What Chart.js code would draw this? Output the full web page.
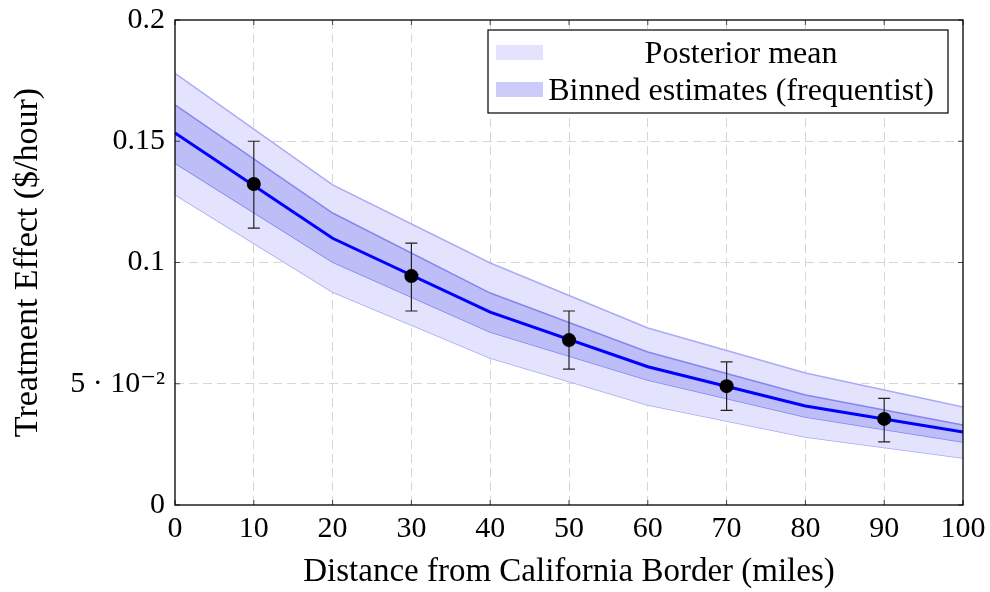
<!DOCTYPE html>
<html>
<head>
<meta charset="utf-8">
<script src="https://cdn.jsdelivr.net/npm/chart.js@4.4.1/dist/chart.umd.min.js"></script>
<style>
  html, body { margin: 0; padding: 0; background: #fff; }
  #wrap { width: 990px; height: 592px; }
</style>
</head>
<body>
<div id="wrap"><canvas id="mychart" width="990" height="592"></canvas></div>
<script>
// band / posterior mean, read at 20-mile steps
const bandX = [0, 20, 40, 60, 80, 100];
const postMean = [0.1534, 0.1100, 0.0795, 0.0570, 0.0408, 0.0301];
const innerUpper = [0.165, 0.1204, 0.0874, 0.0631, 0.0454, 0.0330];
const innerLower = [0.141, 0.1002, 0.0713, 0.0515, 0.0363, 0.0260];
const outerUpper = [0.178, 0.1320, 0.0998, 0.0730, 0.0544, 0.0404];
const outerLower = [0.128, 0.0878, 0.0606, 0.0412, 0.0280, 0.0194];

// binned frequentist estimates
const binX = [10, 30, 50, 70, 90];
const binEst = [0.1324, 0.0944, 0.0680, 0.0490, 0.0355];
const binLow = [0.1142, 0.0800, 0.0560, 0.0390, 0.0260];
const binHigh = [0.1500, 0.1080, 0.0800, 0.0590, 0.0440];

const xTicks = [0, 10, 20, 30, 40, 50, 60, 70, 80, 90, 100];
const yTicks = [0, 0.05, 0.1, 0.15, 0.2];
const yTickLabels = ['0', '5 \u00b7 10\u207b\u00b2', '0.1', '0.15', '0.2'];
const legendLabels = ['Posterior mean', 'Binned estimates (frequentist)'];

const FONT = '"Liberation Serif", "DejaVu Serif", serif';
const outerFill = '#e3e3fd';
const innerFill = '#bdbdf8';

const pts = (xs, ys) => xs.map((x, i) => ({ x: x, y: ys[i] }));

const ctx = document.getElementById('mychart');

const pgfDecor = {
    id: 'pgfDecor',
    afterDatasetsDraw: (chart) => {
        const c = chart.ctx;
        const xs = chart.scales.x, ys = chart.scales.y;
        const a = chart.chartArea;
        c.save();
        // error bars
        c.strokeStyle = '#222';
        c.lineWidth = 1.2;
        binX.forEach((x, i) => {
            const px = xs.getPixelForValue(x);
            const top = ys.getPixelForValue(binHigh[i]);
            const bot = ys.getPixelForValue(binLow[i]);
            c.beginPath();
            c.moveTo(px, top); c.lineTo(px, bot);
            c.moveTo(px - 6, top); c.lineTo(px + 6, top);
            c.moveTo(px - 6, bot); c.lineTo(px + 6, bot);
            c.stroke();
        });
        // dots on top
        c.fillStyle = '#000';
        binX.forEach((x, i) => {
            c.beginPath();
            c.arc(xs.getPixelForValue(x), ys.getPixelForValue(binEst[i]), 7, 0, Math.PI * 2);
            c.fill();
        });
        // inward tick marks
        c.strokeStyle = '#444';
        c.lineWidth = 1;
        xTicks.forEach(t => {
            const px = xs.getPixelForValue(t);
            c.beginPath();
            c.moveTo(px, a.bottom); c.lineTo(px, a.bottom - 5);
            c.moveTo(px, a.top); c.lineTo(px, a.top + 5);
            c.stroke();
        });
        yTicks.forEach(t => {
            const py = ys.getPixelForValue(t);
            c.beginPath();
            c.moveTo(a.left, py); c.lineTo(a.left + 5, py);
            c.moveTo(a.right, py); c.lineTo(a.right - 5, py);
            c.stroke();
        });
        // frame
        c.strokeStyle = '#000';
        c.lineWidth = 1.3;
        c.strokeRect(a.left, a.top, a.right - a.left, a.bottom - a.top);

        // legend box
        const lx = 488, ly = 30, lw = 460, lh = 83;
        c.fillStyle = '#fff';
        c.fillRect(lx, ly, lw, lh);
        c.strokeStyle = '#000';
        c.lineWidth = 1.2;
        c.strokeRect(lx, ly, lw, lh);
        const patches = [outerFill, '#ccccfa'];
        c.font = '32px ' + FONT;
        c.textAlign = 'center';
        c.textBaseline = 'alphabetic';
        legendLabels.forEach((lab, i) => {
            const rowY = ly + 22 + i * 37;
            c.fillStyle = patches[i];
            c.fillRect(lx + 8, rowY - 7, 47, 15);
            c.fillStyle = '#000';
            c.fillText(lab, 741, rowY + 11);
        });
        c.restore();
    }
};

new Chart(ctx, {
    type: 'line',
    data: {
        datasets: [
            {
                label: 'mean',
                data: pts(bandX, postMean),
                borderColor: '#0000ff',
                borderWidth: 3,
                pointRadius: 0,
                fill: false
            },
            {
                label: 'innerUpper',
                data: pts(bandX, innerUpper),
                borderColor: '#8585ef',
                borderWidth: 1.5,
                pointRadius: 0,
                backgroundColor: innerFill,
                fill: '+1'
            },
            {
                label: 'innerLower',
                data: pts(bandX, innerLower),
                borderColor: '#8585ef',
                borderWidth: 1.5,
                pointRadius: 0,
                fill: false
            },
            {
                label: 'outerUpper',
                data: pts(bandX, outerUpper),
                borderColor: '#aaaaf5',
                borderWidth: 1.5,
                pointRadius: 0,
                backgroundColor: outerFill,
                fill: '+1'
            },
            {
                label: 'outerLower',
                data: pts(bandX, outerLower),
                borderColor: '#aaaaf5',
                borderWidth: 1.5,
                pointRadius: 0,
                fill: false
            }
        ]
    },
    options: {
        responsive: false,
        animation: false,
        layout: { padding: { left: 0, right: 27, top: 20, bottom: 0 } },
        plugins: {
            legend: { display: false },
            tooltip: { enabled: false }
        },
        scales: {
            x: {
                type: 'linear',
                min: 0,
                max: 100,
                afterBuildTicks: (s) => { s.ticks = xTicks.map(v => ({ value: v })); },
                afterFit: (s) => { s.height = 87; s.paddingLeft = 0; s.paddingRight = 0; },
                grid: {
                    color: (c) => (c.tick.value === 0 || c.tick.value === 100) ? 'rgba(0,0,0,0)' : '#d6d6d6',
                    lineWidth: 1,
                    drawTicks: false
                },
                border: { display: false, dash: [9, 5] },
                ticks: {
                    color: '#000',
                    padding: 6,
                    maxRotation: 0,
                    font: { family: FONT, size: 30 }
                },
                title: {
                    display: true,
                    text: 'Distance from California Border (miles)',
                    color: '#000',
                    padding: { top: 0, bottom: 0 },
                    font: { family: FONT, size: 33 }
                }
            },
            y: {
                type: 'linear',
                min: 0,
                max: 0.2,
                afterBuildTicks: (s) => { s.ticks = yTicks.map(v => ({ value: v })); },
                afterFit: (s) => { s.width = 175; s.paddingTop = 0; s.paddingBottom = 0; },
                grid: {
                    color: (c) => (c.tick.value === 0 || c.tick.value === 0.2) ? 'rgba(0,0,0,0)' : '#d6d6d6',
                    lineWidth: 1,
                    drawTicks: false
                },
                border: { display: false, dash: [9, 5] },
                ticks: {
                    color: '#000',
                    padding: 10,
                    font: { family: FONT, size: 30 },
                    callback: (v) => {
                        const i = yTicks.findIndex(t => Math.abs(t - v) < 1e-9);
                        return i >= 0 ? yTickLabels[i] : '';
                    }
                },
                title: {
                    display: true,
                    text: 'Treatment Effect ($/hour)',
                    color: '#000',
                    padding: { top: 8, bottom: 0 },
                    font: { family: FONT, size: 34 }
                }
            }
        }
    },
    plugins: [pgfDecor]
});
</script>
</body>
</html>
